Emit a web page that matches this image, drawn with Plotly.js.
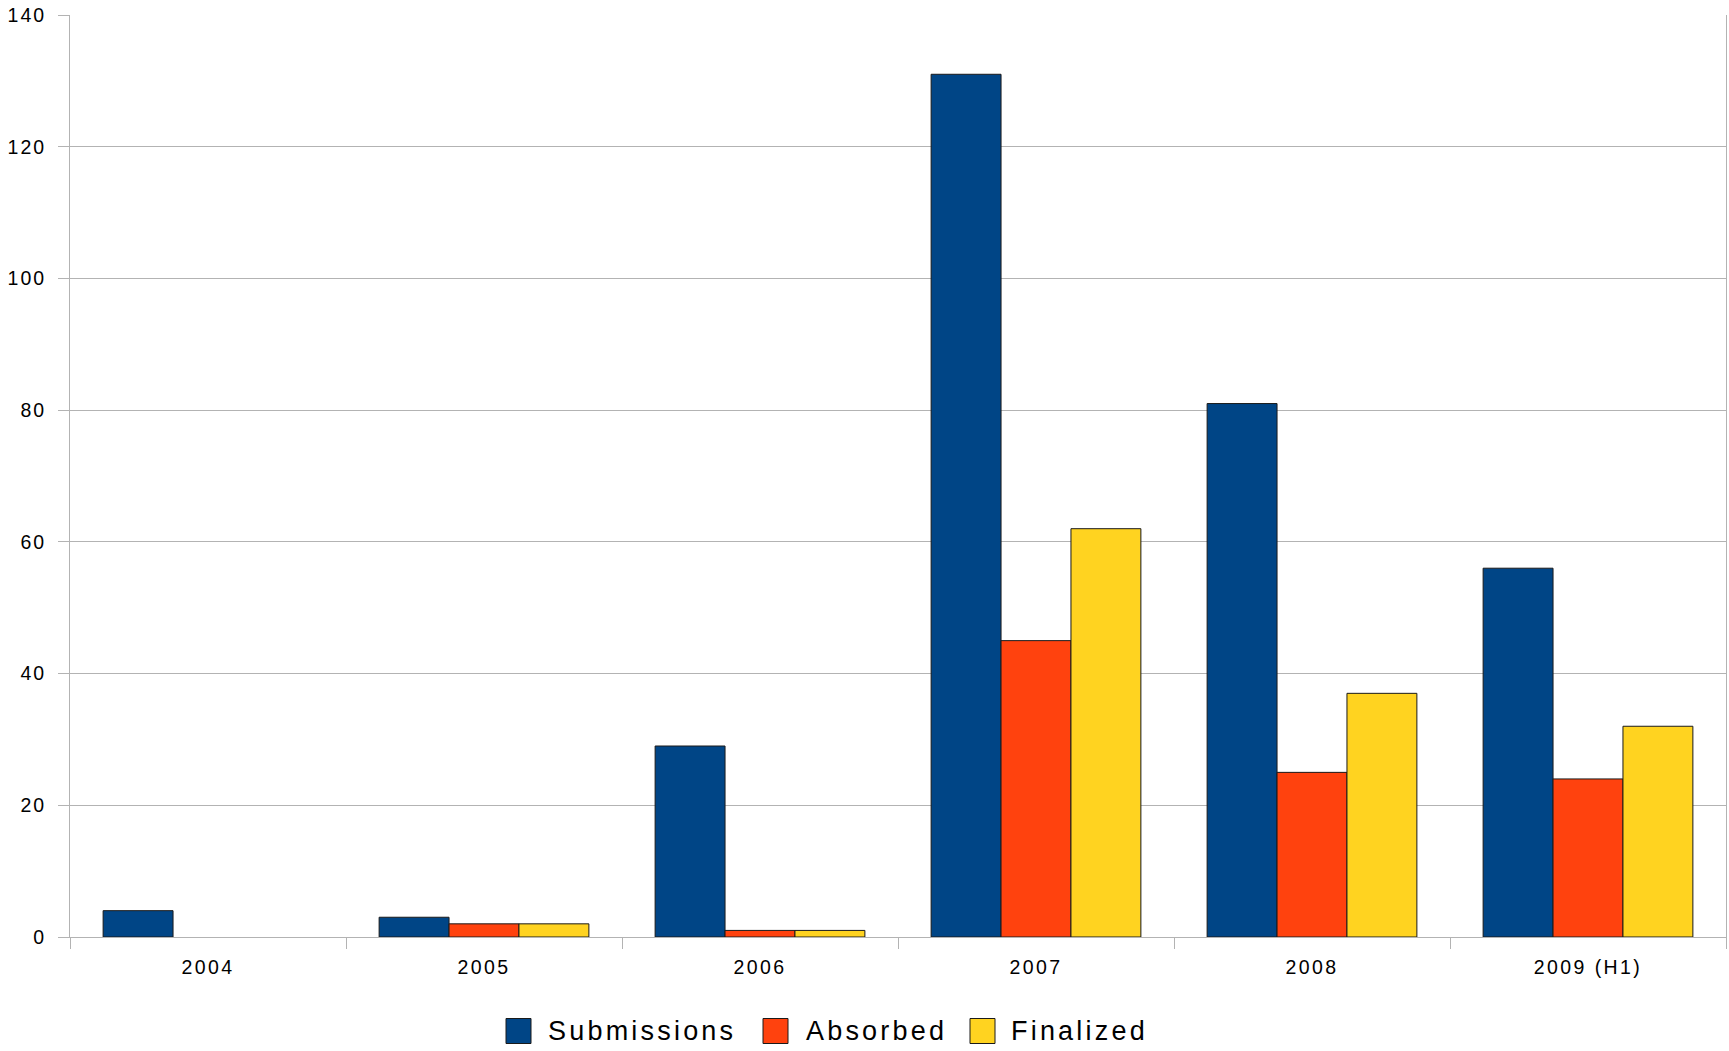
<!DOCTYPE html>
<html>
<head>
<meta charset="utf-8">
<script src="https://cdn.plot.ly/plotly-3.0.1.min.js"></script>
<style>
  html, body { margin: 0; padding: 0; background: #fff; }
  #chart { width: 1729px; height: 1051px; }
  #chart .xtick text { letter-spacing: 2.4px; }
  #chart .ytick text { letter-spacing: 2px; }
  text.annotation-text { letter-spacing: 3.2px; }
</style>
</head>
<body>
<div id="chart"></div>
<script>
const categories = ["2004", "2005", "2006", "2007", "2008", "2009 (H1)"];
const seriesNames = ["Submissions", "Absorbed", "Finalized"];
const seriesColors = ["#004586", "#ff420e", "#ffd320"];
const submissions = [4, 3, 29, 131, 81, 56];
const absorbed = [null, 2, 1, 45, 25, 24];
const finalized = [null, 2, 1, 62, 37, 32];
const yTicks = [0, 20, 40, 60, 80, 100, 120, 140];

const FONT = "Liberation Sans, Arial, sans-serif";
const W = 1729, H = 1051;
const M = { l: 70, r: 3, t: 15, b: 114 };
const plotW = W - M.l - M.r, plotH = H - M.t - M.b;
const toPaperX = px => (px - M.l) / plotW;
const toPaperY = py => (H - M.b - py) / plotH;

const seriesValues = [submissions, absorbed, finalized];
const traces = seriesNames.map((name, i) => ({
  type: "bar",
  name: name,
  x: categories,
  y: seriesValues[i],
  marker: { color: seriesColors[i], line: { color: "#1a1a1a", width: 1 } },
  showlegend: false
}));

// legend drawn as shapes + annotations (positions in pixels of the page)
const legendSquareX = [506, 763, 970];
const legendTextX = [547, 805, 1010];
const legendSquareSize = 25;
const legendCenterY = 1031;
const shapes = [];
const annotations = [];
seriesNames.forEach((name, i) => {
  const x0 = legendSquareX[i];
  shapes.push({
    type: "rect", xref: "paper", yref: "paper",
    x0: toPaperX(x0), x1: toPaperX(x0 + legendSquareSize),
    y0: toPaperY(legendCenterY + legendSquareSize / 2), y1: toPaperY(legendCenterY - legendSquareSize / 2),
    fillcolor: seriesColors[i], line: { color: "#1a1a1a", width: 1 }
  });
  annotations.push({
    xref: "paper", yref: "paper",
    x: toPaperX(legendTextX[i]), y: toPaperY(legendCenterY),
    xanchor: "left", yanchor: "middle", showarrow: false,
    borderpad: 0,
    text: name,
    font: { family: FONT, size: 27, color: "#000000" }
  });
});

const layout = {
  width: W,
  height: H,
  margin: { l: M.l, r: M.r, t: M.t, b: M.b, pad: 0 },
  paper_bgcolor: "#ffffff",
  plot_bgcolor: "#ffffff",
  barmode: "group",
  bargap: 0.24,
  bargroupgap: 0,
  showlegend: false,
  font: { family: FONT, color: "#000000" },
  xaxis: {
    type: "category",
    tickson: "boundaries",
    ticks: "outside",
    ticklen: 11,
    tickcolor: "#b3b3b3",
    tickwidth: 1,
    showline: true,
    linecolor: "#b3b3b3",
    linewidth: 1,
    showgrid: false,
    zeroline: false,
    tickfont: { family: FONT, size: 19.5, color: "#000000" },
    ticklabelstandoff: 13
  },
  yaxis: {
    range: [0, 140],
    tickvals: yTicks,
    ticktext: yTicks.map(String),
    ticks: "outside",
    ticklen: 11,
    tickcolor: "#b3b3b3",
    tickwidth: 1,
    showline: true,
    mirror: true,
    linecolor: "#b3b3b3",
    linewidth: 1,
    showgrid: true,
    gridcolor: "#b3b3b3",
    gridwidth: 1,
    zeroline: false,
    tickfont: { family: FONT, size: 19.5, color: "#000000" },
    ticklabelstandoff: 8
  },
  shapes: shapes,
  annotations: annotations
};

Plotly.newPlot("chart", traces, layout, { displayModeBar: false, staticPlot: true });
</script>
</body>
</html>
